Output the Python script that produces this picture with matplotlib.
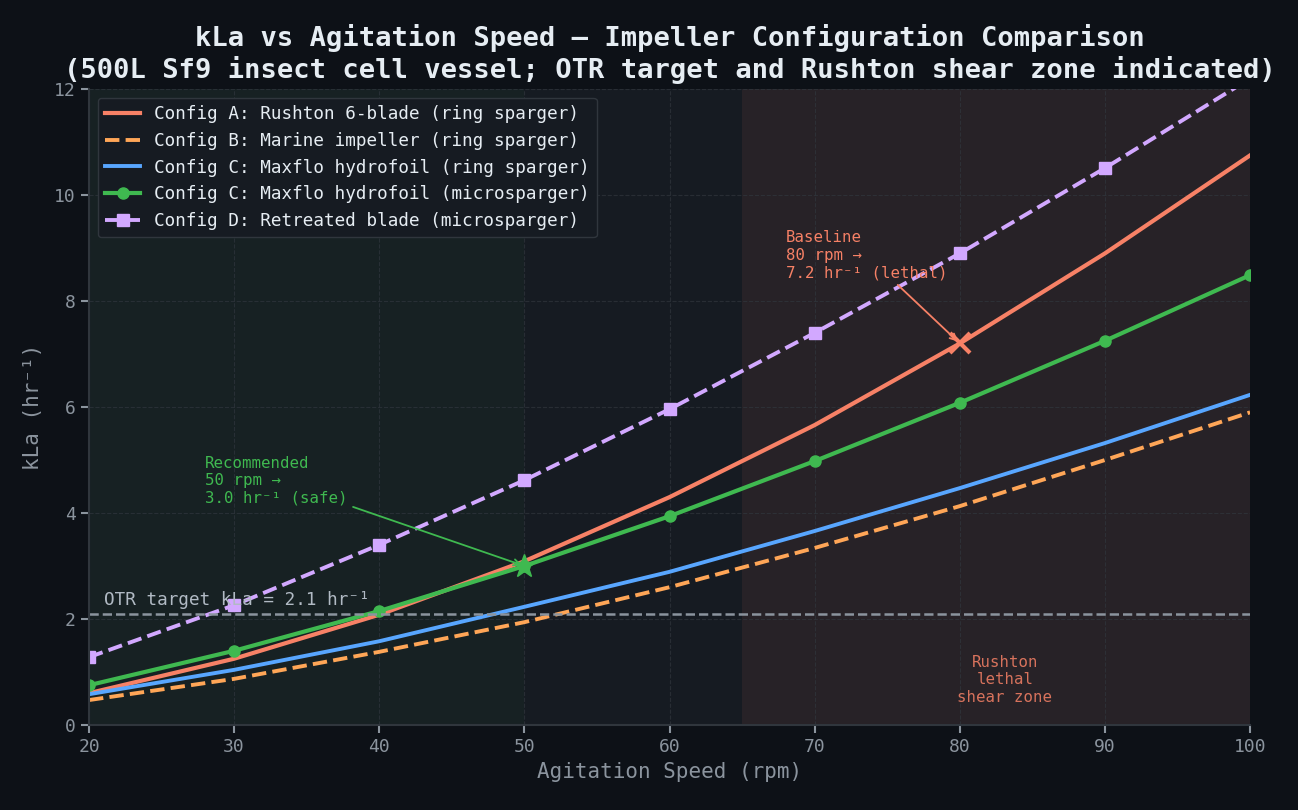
import matplotlib.pyplot as plt
import numpy as np

plt.rcParams['font.family'] = ['DejaVu Sans Mono']

rpm = [20, 30, 40, 50, 60, 70, 80, 90, 100]
kla_a = [0.60, 1.25, 2.08, 3.09, 4.30, 5.66, 7.20, 8.90, 10.75]
kla_b = [0.47, 0.87, 1.38, 1.94, 2.60, 3.34, 4.13, 5.00, 5.90]
kla_c_ring = [0.58, 1.04, 1.58, 2.23, 2.89, 3.66, 4.47, 5.32, 6.23]
kla_c_micro = [0.75, 1.40, 2.15, 3.00, 3.94, 4.98, 6.08, 7.25, 8.49]
kla_d = [1.28, 2.26, 3.40, 4.62, 5.96, 7.40, 8.90, 10.51, 12.20]
otr_target = 2.1

bg = '#0d1117'
ax_bg = '#161b22'
grid_c = '#30363d'
txt = '#8b949e'

fig = plt.figure(figsize=(12.98, 8.1), dpi=100, facecolor=bg)
ax = fig.add_axes([0.0686, 0.105, 0.8945, 0.785])
ax.set_facecolor(ax_bg)

# zones
ax.axvspan(20, 50, color='#3fb950', alpha=0.04, lw=0)
ax.axvspan(65, 100, color='#f78166', alpha=0.08, lw=0)

ax.plot(rpm, kla_a, color='#f78166', lw=3, label='Config A: Rushton 6-blade (ring sparger)')
ax.plot(rpm, kla_b, color='#ffa657', lw=2.8, ls='--', label='Config B: Marine impeller (ring sparger)')
ax.plot(rpm, kla_c_ring, color='#58a6ff', lw=2.8, label='Config C: Maxflo hydrofoil (ring sparger)')
ax.plot(rpm, kla_c_micro, color='#3fb950', lw=3, marker='o', ms=8,
        label='Config C: Maxflo hydrofoil (microsparger)')
ax.plot(rpm, kla_d, color='#d2a8ff', lw=2.8, ls='--', marker='s', ms=8,
        label='Config D: Retreated blade (microsparger)')

ax.axhline(otr_target, color='#8b949e', ls='--', lw=1.8)
ax.text(21, otr_target + 0.17, 'OTR target kLa = 2.1 hr⁻¹', color='#b1bac4', fontsize=12.7)

# highlight points
ax.plot(50, kla_c_micro[3], marker='*', ms=17, color='#3fb950', ls='none')
ax.plot(80, kla_a[6], marker='x', ms=14, mew=3, color='#f78166', ls='none')

ax.annotate('Recommended\n50 rpm →\n3.0 hr⁻¹ (safe)', xy=(50, kla_c_micro[3]),
            xytext=(28, 4.2), color='#3fb950', fontsize=11.3,
            arrowprops=dict(arrowstyle='->', color='#3fb950', lw=1.3))
ax.annotate('Baseline\n80 rpm →\n7.2 hr⁻¹ (lethal)', xy=(80, kla_a[6]),
            xytext=(68, 8.45), color='#f78166', fontsize=11.3,
            arrowprops=dict(arrowstyle='->', color='#f78166', lw=1.3))
ax.text(83.1, 0.85, 'Rushton\nlethal\nshear zone', color='#f78166', alpha=0.85,
        fontsize=11.3, ha='center', va='center')

ax.set_xlim(20, 100)
ax.set_ylim(0, 12)
ax.grid(True, color=grid_c, ls='--', lw=0.8, alpha=0.7)
for s in ['top', 'right']:
    ax.spines[s].set_visible(False)
for s in ['left', 'bottom']:
    ax.spines[s].set_color(grid_c)
    ax.spines[s].set_linewidth(1.5)
ax.tick_params(colors=txt, labelsize=13, length=6, width=1.5)

ax.set_xlabel('Agitation Speed (rpm)', color=txt, fontsize=15)
ax.set_ylabel('kLa (hr⁻¹)', color=txt, fontsize=15, labelpad=8)
ax.set_title('kLa vs Agitation Speed — Impeller Configuration Comparison\n'
             '(500L Sf9 insect cell vessel; OTR target and Rushton shear zone indicated)',
             color='#e6edf3', fontsize=19.5, fontweight='bold', pad=8)

leg = ax.legend(loc='upper left', fontsize=12.7, facecolor=ax_bg, edgecolor=grid_c,
                labelcolor='#e6edf3', framealpha=1)

fig.savefig('out.png', dpi=100, facecolor=bg)
